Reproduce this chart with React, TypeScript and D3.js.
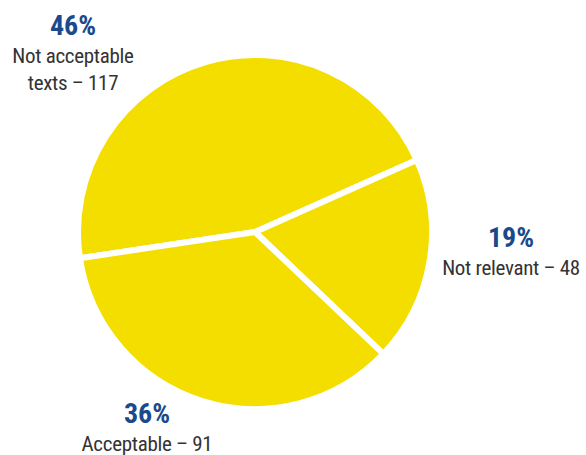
import React, { useEffect, useRef } from 'react';
import * as d3 from 'd3';

const categories = ['Not acceptable texts', 'Not relevant', 'Acceptable'];
const counts = [117, 48, 91];
const percents = ['46%', '19%', '36%'];

const W = 586;
const H = 455;
const YELLOW = '#f4de00';
const BLUE = '#1a4a8b';
const FONT = '"Roboto Condensed", "Liberation Sans Narrow", "Arial Narrow", Roboto, sans-serif';

const App = () => {
	const svgRef = useRef(null);

	useEffect(() => {
		const svg = d3.select(svgRef.current);
		svg.selectAll('*').remove();

		const cx = 255, cy = 232, r = 177;
		const start = (-98.5 * Math.PI) / 180;

		const pie = d3.pie<number>().sort(null).value(d => d)
			.startAngle(start).endAngle(start + 2 * Math.PI);
		const arc = d3.arc<d3.PieArcDatum<number>>().innerRadius(0).outerRadius(r);

		const g = svg.append('g').attr('transform', `translate(${cx},${cy})`);
		g.selectAll('path')
			.data(pie(counts))
			.join('path')
			.attr('d', arc)
			.attr('fill', YELLOW)
			.attr('stroke', '#fff')
			.attr('stroke-width', 6)
			.attr('stroke-linejoin', 'round');

		// label positions (pct baseline)
		const labels = [
			{ x: 73, y: 35, lines: ['Not acceptable', `texts – ${counts[0]}`] },
			{ x: 511, y: 247, lines: [`${categories[1]} – ${counts[1]}`] },
			{ x: 147, y: 423, lines: [`${categories[2]} – ${counts[2]}`] },
		];

		labels.forEach((l, i) => {
			const t = svg.append('g').attr('font-family', FONT).attr('text-anchor', 'middle');
			t.append('text')
				.attr('x', l.x)
				.attr('y', l.y)
				.attr('font-size', 28)
				.attr('font-weight', 'bold')
				.attr('fill', BLUE)
				.text(percents[i]);
			l.lines.forEach((line, j) => {
				t.append('text')
					.attr('x', l.x)
					.attr('y', l.y + 28 + j * 27)
					.attr('font-size', 21)
					.attr('letter-spacing', -0.3)
					.attr('fill', '#333')
					.text(line);
			});
		});
	}, []);

	return (
		<svg
			ref={svgRef}
			width={W}
			height={H}
			style={{ position: 'absolute', left: 0, top: 0, background: '#fff' }}
		/>
	);
};

export default App;
